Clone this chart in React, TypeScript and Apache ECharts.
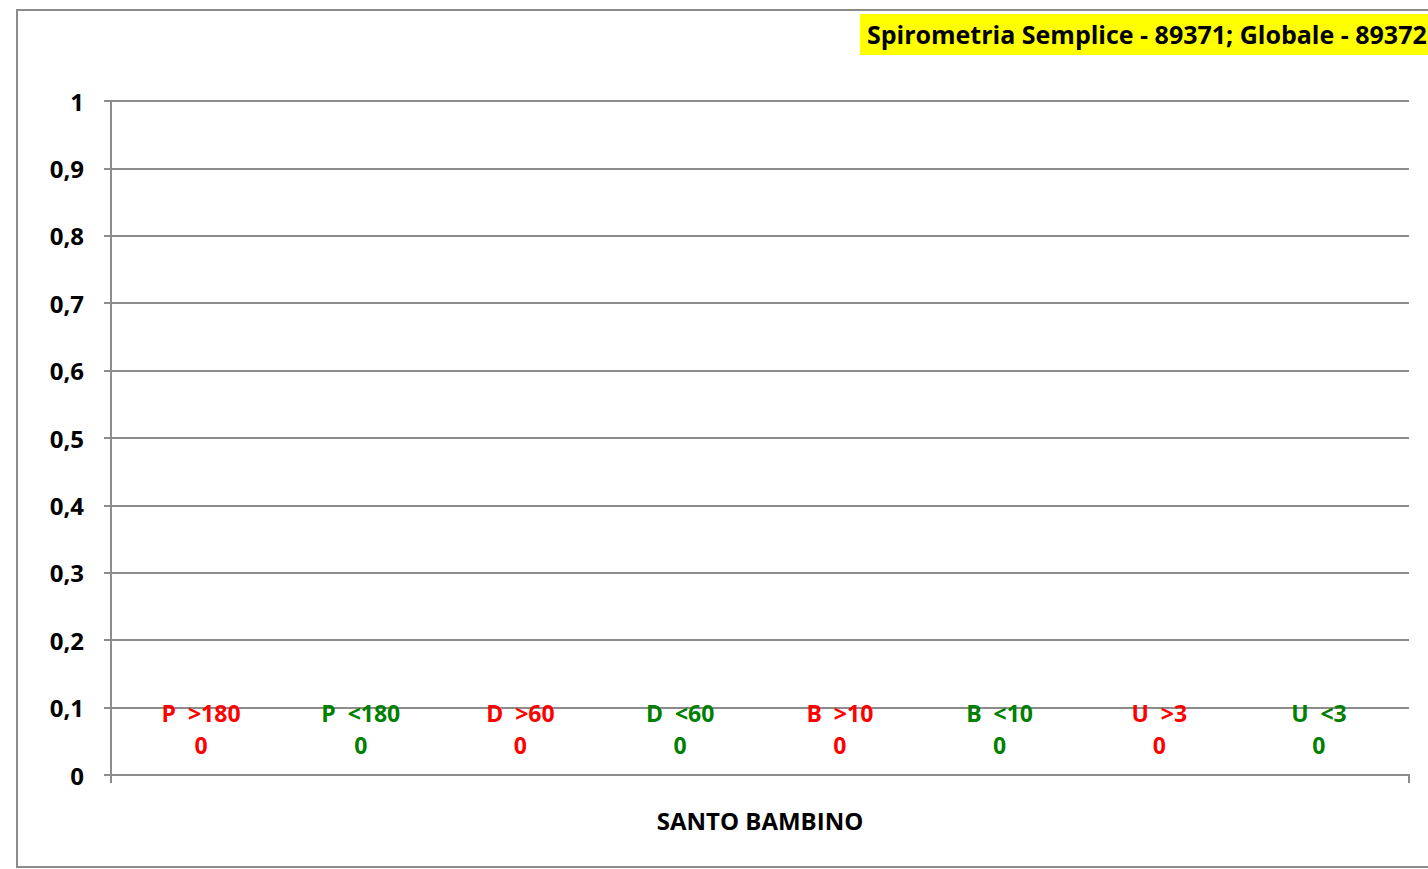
import React, { useEffect, useRef } from "react";
import * as echarts from "echarts";

const categories = ["SANTO BAMBINO"];
const seriesNames = ["P  >180", "P  <180", "D  >60", "D  <60", "B  >10", "B  <10", "U  >3", "U  <3"];
const seriesValues = [[0], [0], [0], [0], [0], [0], [0], [0]];
const yTicks = [0, 0.1, 0.2, 0.3, 0.4, 0.5, 0.6, 0.7, 0.8, 0.9, 1];
const titleText = "Spirometria Semplice - 89371; Globale - 89372";

const RED = "#ff0000";
const GREEN = "#008000";
const FONT = "'Open Sans', Lato, sans-serif";

export default function App() {
  const ref = useRef<HTMLDivElement>(null);
  useEffect(() => {
    if (!ref.current) return;
    const chart = echarts.init(ref.current, null, { renderer: "svg" });
    chart.setOption({
      animation: false,
      backgroundColor: "#ffffff",
      textStyle: { fontFamily: FONT },
      grid: { left: 111, right: 19, top: 101, bottom: 94, containLabel: false },
      xAxis: {
        type: "category",
        data: categories,
        axisLine: { show: true, lineStyle: { color: "#8c8c8c", width: 2 } },
        axisTick: { show: true, length: 8, lineStyle: { color: "#8c8c8c", width: 2 } },
        axisLabel: {
          margin: 33,
          color: "#000",
          fontWeight: "bold",
          fontSize: 24,
          fontFamily: FONT,
        },
      },
      yAxis: {
        type: "value",
        min: yTicks[0],
        max: yTicks[yTicks.length - 1],
        interval: 0.1,
        axisLine: { show: true, lineStyle: { color: "#8c8c8c", width: 2 } },
        axisTick: { show: true, length: 7, lineStyle: { color: "#8c8c8c", width: 2 } },
        splitLine: { show: true, lineStyle: { color: "#8c8c8c", width: 2 } },
        axisLabel: {
          margin: 27,
          color: "#000",
          fontWeight: "bold",
          fontSize: 24,
          fontFamily: FONT,
          formatter: (v: number) => String(Math.round(v * 10) / 10).replace(".", ","),
        },
      },
      series: seriesNames.map((name, i) => ({
        type: "bar",
        name,
        data: seriesValues[i],
        barWidth: 100,
        barGap: "59.7%",
        itemStyle: { color: i % 2 === 0 ? RED : GREEN },
        label: {
          show: true,
          position: "top",
          distance: 14,
          formatter: "{a}\n{c}",
          color: i % 2 === 0 ? RED : GREEN,
          fontWeight: "bold",
          fontSize: 23,
          lineHeight: 32,
          fontFamily: FONT,
          align: "center",
        },
      })),
      graphic: [
        {
          type: "rect",
          shape: { x: 17, y: 10, width: 1440, height: 857 },
          style: { fill: "none", stroke: "#8c8c8c", lineWidth: 2 },
          silent: true,
        },
        {
          type: "rect",
          shape: { x: 860, y: 14, width: 600, height: 41 },
          style: { fill: "#ffff00" },
          silent: true,
        },
        {
          type: "text",
          x: 867,
          y: 34,
          style: {
            text: titleText,
            fill: "#000",
            font: `bold 25px ${FONT}`,
            textVerticalAlign: "middle",
          },
          silent: true,
        },
      ],
    });
    return () => chart.dispose();
  }, []);
  return (
    <div
      ref={ref}
      style={{ position: "fixed", left: 0, top: 0, width: 1428, height: 869 }}
    />
  );
}
